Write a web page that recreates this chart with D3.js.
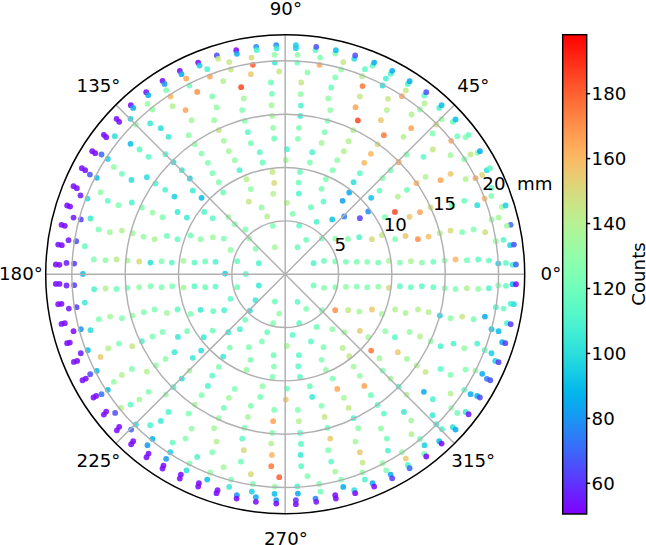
<!DOCTYPE html>
<html>
<head>
<meta charset="utf-8">
<script src="https://cdn.jsdelivr.net/npm/d3@7"></script>
<style>
html,body{margin:0;padding:0;background:#fff}
svg{display:block}
text{font-family:"DejaVu Sans",sans-serif;fill:#000}
</style>
</head>
<body>
<svg id="chart" width="646" height="545"></svg>
<script>
// measurement sites: [x in mm, y in mm, counts]
const quadrant1 = [
[2.66,1.03,110],[3.63,1.25,118],[4.69,1.19,122],[5.69,1.16,122],[6.69,1.16,125],[7.69,1.16,125],[8.72,1.09,122],[9.72,1.25,135],[10.75,1.09,125],[11.78,1.22,138],[12.81,1.09,128],[13.88,1.16,120],[14.94,1.28,128],[15.97,1.38,160],[17.03,1.31,122],[18.09,1.38,115],[19.09,1.28,118],[19.97,1.0,95],[20.69,1.06,115],[21.31,.88,108],[21.63,.91,70],
[1.16,2.53,120],[1.97,3.22,120],[3.44,3.34,120],[4.69,3.34,130],[5.88,3.31,125],[6.94,3.47,112],[8.13,3.28,150],[9.06,3.66,145],[10.31,3.28,125],[11.28,3.59,155],[12.44,3.28,170],[13.44,3.53,158],[14.5,3.84,140],[15.5,4.09,150],[16.59,3.94,125],[17.66,4.19,125],[18.75,3.94,148],[19.75,3.09,132],[20.47,3.22,112],[21.09,2.72,95],[21.44,2.78,65],
[1.31,4.56,115],[2.94,4.91,110],[4.41,5.13,92],[5.53,5.41,75],[7.0,5.25,62],[7.78,5.88,78],[9.34,5.34,125],[10.28,5.84,185],[11.66,5.38,155],[12.63,5.81,165],[13.63,6.25,150],[15.63,6.47,120],[16.78,6.88,118],[18.0,6.47,100],[18.69,7.09,160],[19.31,7.34,125],[20.31,6.31,135],[20.66,6.44,95],[21.13,4.63,70],[20.78,4.53,135],[20.0,5.31,135],[19.34,5.13,130],
[.16,6.69,140],[1.28,7.56,110],[3.41,8.0,122],[3.59,6.81,115],[2.41,6.28,120],[.69,5.66,125],[5.38,6.88,82],[6.0,7.66,85],[6.41,8.63,100],[8.06,7.16,92],[8.84,7.84,118],[10.56,7.28,140],[11.41,7.91,120],[12.31,8.53,162],[13.16,9.13,140],[14.56,8.81,165],[15.5,9.41,155],[16.91,8.91,140],[17.84,9.0,165],[18.47,9.31,150],[18.91,9.75,100],[19.19,9.94,115],[19.34,8.09,120],
[1.25,8.59,120],[1.38,9.59,118],[3.81,8.91,125],[4.44,9.75,125],[7.0,9.47,115],[7.41,10.44,160],[8.03,11.28,160],[9.13,9.0,128],[9.88,9.75,122],[10.63,10.5,165],[11.38,11.22,125],[12.97,11.0,115],[13.84,11.69,145],[15.5,11.16,135],[16.78,10.78,125],[17.38,11.22,145],[18.03,11.38,125],[18.25,11.53,85],
[.06,10.69,135],[.16,11.72,110],[2.31,10.47,125],[2.53,11.44,110],[4.88,10.69,130],[5.5,11.53,140],[5.94,12.47,140],[6.38,13.5,140],[8.66,12.19,150],[9.25,13.03,175],[11.09,12.88,140],[11.81,13.69,165],[13.81,13.19,125],[15.56,12.5,165],[16.13,12.94,120],[16.91,12.84,125],[17.19,13.06,118],
[1.19,12.69,125],[1.28,13.72,125],[3.41,12.31,135],[3.69,13.31,125],[3.97,14.38,125],[6.81,14.41,185],[6.59,15.66,165],[7.0,16.66,145],[7.25,17.63,175],[8.97,14.44,155],[9.53,15.38,140],[9.63,16.44,145],[10.94,16.69,165],[11.84,14.97,140],[11.31,17.22,145],[11.5,17.84,110],[11.66,18.09,85],[12.63,15.44,130],[13.06,16.0,140],[13.03,16.75,115],[13.22,17.06,65],[14.44,15.59,110],[14.66,15.84,90],[14.66,14.53,130],[14.16,14.03,150],[15.72,14.28,120],[15.97,14.5,90],
[1.41,14.84,105],[1.47,15.81,110],[1.44,16.88,130],[1.5,17.97,145],[2.09,18.91,128],[4.03,16.47,130],[4.22,15.38,130],[4.31,17.5,120],[4.69,18.44,125],[3.28,20.31,125],[3.22,19.63,165],[1.13,19.84,120],[1.16,20.56,130],[1.0,21.19,95],[1.0,21.47,95],[2.84,21.0,115],[2.91,21.31,65],[4.69,20.69,125],[4.75,21.0,90],[5.44,19.88,145],[5.25,19.19,130],[6.47,20.19,100],[6.56,20.5,65],[7.22,18.56,140],[7.47,19.22,115],[8.19,19.56,115],[8.34,19.84,85],[9.44,18.34,108],[9.13,17.69,100],[9.88,18.78,110],[10.03,19.06,85]
];
const quadrant2 = [
[-.84,21.47,78],[-2.72,21.31,78],[-4.59,21.0,52],[-6.41,20.5,65],[-8.16,19.84,52],[-9.88,19.06,52],[-11.5,18.13,52],[-13.03,17.06,52],[-14.47,15.84,52],[-15.81,14.56,52],[-15.56,14.28,52],[-17.0,13.06,52],[-16.78,12.84,52],[-18.09,11.53,52],[-17.81,11.34,52],[-19.06,9.94,52],[-18.75,9.75,52],[-19.84,8.25,52],[-19.53,8.06,52],[-20.44,6.44,52],[-20.16,6.34,52],[-20.97,4.63,52],[-20.66,4.53,52],[-21.28,2.78,52],[-20.94,2.72,52],[-21.5,.91,52],[-21.16,.88,52],
[-.81,21.16,105],[-2.69,21.0,110],[-4.53,20.66,85],[-6.28,20.19,145],[-8.03,19.56,95],[-9.72,18.75,85],[-11.31,17.84,80],[-12.84,16.78,85],[-14.25,15.59,85],[-14.5,14.56,95],[-15.97,12.94,100],[-17.22,11.22,70],[-18.31,9.34,65],[-19.19,7.38,55],[-19.84,5.31,55],[-19.16,5.13,62],[-20.31,3.19,55],[-19.59,3.09,65],[-20.5,1.06,55],[-19.78,1.0,62],[-17.66,9.03,90],[-18.53,7.09,100],[-16.63,10.81,95],[-18.25,5.22,105],[-18.78,2.63,118],
[-1.0,20.56,130],[-3.16,20.31,150],[-5.25,19.88,145],[-7.31,19.22,110],[-9.28,18.34,165],[-11.16,17.25,125],[-12.91,15.97,130],[-12.44,15.44,130],[-10.75,16.66,160],[-8.97,17.69,120],[-7.06,18.53,165],[-5.09,19.19,145],[-3.03,19.63,180],[-.97,19.84,105],[-.56,19.0,145],[-3.22,18.75,155],[-5.81,18.09,140],[-8.25,17.09,170],[-10.56,15.75,140],[-9.34,15.38,165],[-6.84,16.66,125],[-4.13,17.53,185],[-3.88,16.47,135],[-1.34,17.97,120],[-1.25,16.91,120],[-6.44,15.63,130],[-4.03,15.38,125],[-1.28,15.84,135],
[-14.0,14.03,130],[-12.66,14.13,105],[-11.66,13.69,100],[-10.94,12.88,105],[-8.78,14.44,135],[-6.66,14.44,132],[-6.22,13.5,145],[-3.81,14.38,125],[-1.22,14.84,135],[-1.13,13.72,130],[-9.06,13.03,130],[-3.5,13.31,115],[-3.22,12.28,122],[-1.03,12.72,120],[-5.75,12.5,135],[-8.47,12.19,130],[-14.5,12.22,90],[-13.66,11.69,115],[-12.81,11.0,115],[-11.22,11.25,110],[-10.47,10.5,100],[-9.69,9.75,105],[-8.94,8.97,95],[-7.84,11.31,125],[-5.28,11.53,135],[-2.38,11.44,115],[-4.72,10.69,130],[-7.25,10.44,125],[-2.13,10.47,120],
[-16.06,10.06,130],[-15.31,9.41,120],[-14.41,8.84,100],[-12.97,9.09,100],[-12.16,8.5,110],[-11.25,7.91,110],[-10.38,7.28,95],[-8.66,7.84,105],[-7.84,7.16,90],[-4.28,9.75,110],[-6.81,9.47,125],[-1.19,9.59,145],[-3.63,8.91,140],[-6.22,8.63,125],[-1.03,8.56,150],[-3.22,7.97,130],[-5.81,7.66,120],[-1.13,7.53,140],
[-17.31,7.69,130],[-16.63,6.88,115],[-15.63,6.47,125],[-14.38,6.72,110],[-13.44,6.25,125],[-12.44,5.78,132],[-11.5,5.34,125],[-10.09,5.84,105],[-9.22,5.31,105],[-7.59,5.84,112],[-6.81,5.25,115],[-5.34,5.38,130],[-3.41,6.81,145],[-2.22,6.25,130],[-1.69,5.41,140],[-4.72,4.69,125],[-3.72,4.19,125],[-1.16,4.53,125],[-3.38,3.34,130],[-2.78,2.38,125],[-.97,2.53,135],
[-17.5,4.19,125],[-16.44,3.94,135],[-15.31,4.09,140],[-14.31,3.84,135],[-13.28,3.53,130],[-12.25,3.28,138],[-11.09,3.59,120],[-10.09,3.28,118],[-8.88,3.63,122],[-7.94,3.28,130],[-6.78,3.47,135],[-5.75,3.34,125],[-5.13,2.28,130],
[-17.94,1.38,125],[-16.84,1.31,130],[-15.81,1.38,142],[-14.78,1.28,135],[-13.69,1.19,150],[-12.63,1.09,100],[-11.59,1.22,125],[-10.63,1.09,115],[-9.53,1.25,135],[-8.5,1.09,115],[-7.5,1.19,120],[-6.53,1.16,110],[-4.5,1.22,118],[-2.47,1.03,110],[-5.63,.06,95],[-3.69,.03,115],[-18.97,.03,90]
];
const quadrant3 = [
[-21.5,-.91,52],[-21.16,-.91,52],[-20.5,-1.06,55],[-19.78,-1.03,62],[-17.91,-1.41,110],[-16.84,-1.34,140],[-15.81,-1.38,120],[-14.78,-1.28,122],[-13.69,-1.22,130],[-12.63,-1.13,125],[-11.59,-1.22,125],[-10.59,-1.13,125],[-9.53,-1.25,135],[-8.5,-1.13,115],[-7.5,-1.22,120],[-6.53,-1.16,115],[-4.5,-1.22,120],[-2.47,-1.06,105],
[-21.28,-2.81,52],[-20.97,-2.78,52],[-20.28,-3.22,55],[-19.56,-3.09,62],[-18.78,-2.66,105],[-17.47,-4.22,125],[-16.41,-3.97,135],[-15.31,-4.13,125],[-14.31,-3.88,132],[-13.25,-3.56,125],[-12.25,-3.31,125],[-11.09,-3.63,135],[-10.09,-3.31,115],[-8.88,-3.72,125],[-7.94,-3.34,105],[-6.75,-3.47,118],[-5.72,-3.38,110],[-5.13,-2.31,115],[-2.78,-2.44,105],[-.97,-2.56,120],[-.56,-3.69,130],[-3.75,-4.28,120],[-3.31,-3.41,100],
[-20.97,-4.66,52],[-20.66,-4.59,52],[-19.84,-5.34,52],[-19.16,-5.16,80],[-18.25,-5.25,100],[-16.59,-6.94,140],[-15.59,-6.5,125],[-14.34,-6.75,145],[-13.44,-6.28,110],[-12.44,-5.84,125],[-11.5,-5.41,125],[-10.06,-5.88,105],[-9.19,-5.34,122],[-7.63,-5.91,105],[-6.81,-5.28,120],[-5.34,-5.44,105],[-4.25,-5.16,110],[-1.69,-5.44,120],[-1.13,-4.59,125],
[-20.44,-6.47,52],[-20.19,-6.41,52],[-19.16,-7.41,55],[-18.5,-7.13,90],[-17.31,-7.75,155],[-16.06,-10.09,130],[-15.31,-9.44,140],[-14.38,-8.88,125],[-12.97,-9.13,140],[-12.13,-8.56,130],[-11.22,-7.94,130],[-10.38,-7.31,105],[-8.66,-7.84,105],[-7.88,-7.16,100],[-5.81,-7.72,105],[-5.19,-6.88,125],[-3.41,-6.84,125],[-2.19,-6.31,125],
[-19.81,-8.22,52],[-19.5,-8.13,52],[-18.28,-9.38,65],[-17.66,-9.06,90],[-19.0,-9.94,52],[-18.69,-9.78,52],[-17.97,-11.56,52],[-17.72,-11.41,52],[-17.22,-11.25,72],[-16.63,-10.84,90],
[-8.97,-9.03,135],[-9.69,-9.78,100],[-10.47,-10.59,110],[-11.19,-11.28,130],[-12.81,-11.03,125],[-13.66,-11.75,135],[-14.5,-12.22,115],[-15.38,-12.53,140],[-6.22,-8.69,125],[-6.84,-9.5,115],[-7.25,-10.47,110],[-7.84,-11.34,125],[-8.47,-12.22,135],[-9.06,-13.06,125],[-3.63,-8.97,130],[-3.25,-8.03,125],[-1.09,-7.59,120],[-1.06,-8.66,125],[-1.19,-9.63,125],
[-4.72,-10.75,125],[-5.28,-11.59,135],[-5.75,-12.53,120],[-6.22,-13.5,130],[-6.66,-14.44,135],[-2.13,-10.5,130],[-2.34,-11.5,122],[-3.22,-12.34,125],[-3.5,-13.38,135],[-3.81,-14.41,125],[-4.03,-15.41,115],[-1.03,-12.72,125],[-1.13,-13.78,165],[-1.22,-14.88,125],[-1.31,-15.88,140],[-1.25,-16.94,160],[-1.31,-18.0,175],[-.56,-19.03,180],[-.97,-19.91,130],[-1.0,-20.59,90],[-.84,-21.19,80],[-.84,-21.5,52],[-2.75,-20.91,85],[-2.75,-21.34,52],
[-3.88,-16.5,150],[-4.16,-17.56,120],[-3.22,-18.75,150],[-3.03,-19.66,125],[-6.44,-15.69,140],[-6.84,-16.69,125],[-5.78,-18.09,135],[-5.06,-19.25,125],[-5.25,-19.94,105],[-3.13,-20.38,95],[-4.53,-20.72,80],[-4.56,-21.03,52],[-6.34,-20.25,52],[-6.44,-20.53,52],[-7.31,-19.25,90],[-8.09,-19.59,52],[-8.16,-19.91,52],[-7.03,-18.59,130],[-9.25,-18.38,100],[-8.97,-17.75,125],[-9.78,-18.78,52],[-9.88,-19.16,52],[-8.25,-17.13,110],
[-10.78,-16.69,95],[-11.16,-17.31,80],[-11.41,-17.94,52],[-11.5,-18.22,52],[-12.81,-16.81,52],[-13.0,-17.16,52],[-14.25,-15.66,52],[-14.44,-15.94,52],[-15.56,-14.31,52],[-15.78,-14.63,52],[-16.78,-12.88,52],[-17.0,-13.16,52],[-15.94,-13.0,65],[-14.44,-14.56,70],[-14.0,-14.09,100],[-12.66,-14.16,110],[-12.44,-15.44,88],[-12.91,-16.03,80],[-11.66,-13.75,105],[-10.94,-12.91,110],[-10.56,-15.78,118],[-9.34,-15.41,125],[-8.78,-14.47,130]
];
const quadrant4 = [
[2.66,-1.06,120],[3.63,-1.28,125],[4.69,-1.22,125],[5.69,-1.19,130],[6.69,-1.16,125],[7.69,-1.22,125],[8.72,-1.16,130],[9.72,-1.28,150],[10.75,-1.13,115],[11.78,-1.22,118],[12.81,-1.13,115],[13.88,-1.22,118],[14.94,-1.31,125],[15.97,-1.38,125],[17.03,-1.31,140],[18.09,-1.38,130],[19.09,-1.31,112],[19.97,-1.06,125],[20.69,-1.09,115],[21.31,-.94,90],[21.63,-.94,52],
[1.16,-2.59,115],[1.97,-3.25,125],[3.44,-3.38,125],[4.69,-3.38,170],[5.91,-3.38,145],[6.94,-3.5,135],[8.13,-3.31,155],[9.06,-3.72,135],[10.31,-3.31,140],[11.28,-3.63,138],[12.44,-3.31,140],[13.44,-3.56,140],[14.5,-3.88,95],[15.5,-4.13,130],[16.59,-3.97,145],[17.66,-4.22,122],[18.72,-3.97,85],[19.75,-3.09,110],[20.47,-3.22,118],[21.13,-2.78,110],[21.44,-2.81,100],
[1.31,-4.59,115],[2.94,-4.94,120],[4.41,-5.16,130],[5.53,-5.44,135],[7.0,-5.31,155],[7.78,-5.91,135],[9.38,-5.34,130],[10.28,-5.91,115],[11.66,-5.41,130],[12.63,-5.84,140],[13.63,-6.28,130],[14.56,-6.75,110],[15.78,-6.5,110],[16.78,-6.94,130],[18.0,-6.5,110],[18.69,-7.13,115],[19.34,-7.41,95],[19.69,-8.13,95],[20.0,-8.25,62],[20.78,-4.59,110],[21.13,-4.69,62],[19.34,-5.16,90],[20.0,-5.34,90],[20.34,-6.38,85],[20.63,-6.47,62],
[.69,-5.69,115],[.16,-6.72,135],[2.41,-6.31,115],[3.59,-6.84,125],[5.38,-6.91,140],[6.0,-7.69,145],[8.06,-7.16,175],[8.84,-7.88,135],[10.56,-7.31,155],[11.41,-7.94,135],[12.34,-8.56,140],[13.16,-9.16,145],[14.56,-8.88,115],[15.5,-9.44,125],[16.91,-8.94,125],[17.84,-9.03,130],[18.47,-9.34,85],[18.91,-9.81,75],[19.22,-9.94,65],
[1.28,-7.59,115],[1.22,-8.63,115],[1.38,-9.63,115],[3.41,-8.03,125],[3.81,-8.97,130],[4.44,-9.78,125],[6.41,-8.66,135],[7.0,-9.53,130],[9.13,-9.03,125],[9.88,-9.78,135],[10.63,-10.53,110],[11.38,-11.28,140],[13.0,-11.03,85],[13.84,-11.72,110],[15.5,-11.19,140],[16.78,-10.84,115],[17.38,-11.25,85],[18.0,-11.41,85],[18.25,-11.56,65],
[.16,-10.72,120],[.06,-11.75,155],[2.31,-10.5,120],[2.53,-11.5,105],[4.88,-10.75,165],[5.5,-11.59,135],[5.94,-12.53,145],[7.41,-10.47,165],[8.03,-11.34,120],[8.66,-12.25,115],[9.25,-13.06,115],[11.13,-12.91,105],[11.81,-13.72,135],[13.81,-13.22,105],[14.16,-14.06,105],[15.56,-12.53,130],[16.13,-13.0,120],[16.91,-12.91,105],[17.19,-13.13,55],
[1.19,-12.72,125],[1.28,-13.78,140],[1.38,-14.88,115],[3.41,-12.34,125],[3.69,-13.38,145],[3.97,-14.41,120],[4.22,-15.41,155],[6.41,-13.5,110],[6.84,-14.44,130],[6.59,-15.69,135],[7.0,-16.69,155],[7.25,-17.66,145],[8.97,-14.47,130],[9.53,-15.41,120],[9.63,-16.53,110],[10.94,-16.69,130],[11.84,-15.0,140],[11.31,-17.28,155],[11.5,-17.88,110],[11.66,-18.19,70],[12.63,-15.44,120],[13.03,-16.84,120],[13.22,-17.09,52],[13.06,-16.03,95],[14.44,-15.66,90],[14.66,-15.88,52],[14.69,-14.53,110],[15.72,-14.34,100],[15.97,-14.56,85],
[1.47,-15.91,115],[1.44,-16.94,105],[1.5,-18.0,115],[2.09,-18.94,125],[4.03,-16.5,125],[4.31,-17.56,115],[4.69,-18.5,135],[5.25,-19.25,125],[3.19,-19.66,125],[3.31,-20.38,120],[1.13,-19.88,110],[1.19,-20.56,85],[1.0,-21.19,60],[1.0,-21.56,52],[2.84,-21.03,75],[2.91,-21.34,55],[4.69,-20.72,52],[4.75,-21.03,52],[5.44,-19.94,85],[6.47,-20.25,100],[6.56,-20.53,52],[7.22,-18.59,130],[7.47,-19.25,110],[8.19,-19.59,85],[8.34,-19.91,52],[9.13,-17.72,130],[9.47,-18.38,125],[9.88,-18.78,85],[10.03,-19.13,62]
];
const radialTicks = [5, 10, 15, 20];
const angleTicks = [0, 45, 90, 135, 180, 225, 270, 315];
const colorTicks = [60, 80, 100, 120, 140, 160, 180];
const colorDomain = [50.4, 198];
const radialMax = 22.45;
const radialUnit = "mm";
const colorLabel = "Counts";

const points = [...quadrant1, ...quadrant2, ...quadrant3, ...quadrant4].map(([x, y, counts]) => ({
  r: Math.hypot(x, y), theta: Math.atan2(y, x), counts
}));

const fontSize = 18.2;
const cx = 285.2, cy = 274.2, R = 239.5;
const rad = d => d * Math.PI / 180;
const radial = (thetaRad, r) => d3.pointRadial(Math.PI / 2 - thetaRad, r);

// matplotlib "rainbow" colormap
const rainbow = t => {
  const c = v => Math.round(255 * Math.min(1, Math.max(0, v)));
  return `rgb(${c(Math.abs(2 * t - 0.5))},${c(Math.sin(Math.PI * t))},${c(Math.cos(Math.PI * t / 2))})`;
};
const color = d3.scaleSequential(rainbow).domain(colorDomain);
const rScale = d3.scaleLinear().domain([0, radialMax]).range([0, R]);

const svg = d3.select("#chart");
const polar = svg.append("g").attr("transform", `translate(${cx},${cy})`);

polar.append("g").selectAll("circle").data(points).join("circle")
  .attr("cx", d => radial(d.theta, rScale(d.r))[0])
  .attr("cy", d => radial(d.theta, rScale(d.r))[1])
  .attr("r", 2.9)
  .attr("fill", d => color(d.counts))
  .attr("fill-opacity", 0.86);

const grid = polar.append("g").attr("fill", "none").attr("stroke", "#b0b0b0").attr("stroke-width", 1.45);
grid.selectAll("circle").data(radialTicks).join("circle").attr("r", d => rScale(d));
grid.selectAll("line").data(angleTicks).join("line")
  .attr("x2", d => radial(rad(d), R)[0])
  .attr("y2", d => radial(rad(d), R)[1]);

polar.append("circle").attr("r", R).attr("fill", "none").attr("stroke", "#000").attr("stroke-width", 1.5);

polar.append("g").attr("transform", "translate(0.7,-0.9)").selectAll("text").data(angleTicks).join("text")
  .attr("x", d => radial(rad(d), 265)[0])
  .attr("y", d => radial(rad(d), 265)[1])
  .attr("text-anchor", "middle").attr("dy", "0.36em")
  .attr("font-size", fontSize)
  .text(d => d + "°");

const labelAngle = rad(22.5);
polar.append("g").selectAll("text").data(radialTicks).join("text")
  .attr("x", d => radial(labelAngle, rScale(d))[0])
  .attr("y", d => radial(labelAngle, rScale(d))[1] - 9.3)
  .attr("dy", "0.36em")
  .attr("font-size", fontSize)
  .text(d => d);
polar.append("text")
  .attr("x", radial(labelAngle, rScale(20))[0] + 34.6)
  .attr("y", radial(labelAngle, rScale(20))[1] - 9.3)
  .attr("dy", "0.36em")
  .attr("font-size", fontSize)
  .text(radialUnit);

// colorbar
const barX = 562.7, barW = 24, barTop = 34.7, barBottom = 514;
const cScale = d3.scaleLinear().domain(colorDomain).range([barBottom, barTop]);
const defs = svg.append("defs");
const grad = defs.append("linearGradient").attr("id", "ramp")
  .attr("x1", 0).attr("x2", 0).attr("y1", 1).attr("y2", 0);
grad.selectAll("stop").data(d3.range(0, 1.0001, 0.02)).join("stop")
  .attr("offset", d => d).attr("stop-color", d => rainbow(d));
svg.append("rect").attr("x", barX).attr("y", barTop).attr("width", barW).attr("height", barBottom - barTop)
  .attr("fill", "url(#ramp)");
svg.append("rect").attr("x", barX).attr("y", barTop).attr("width", barW).attr("height", barBottom - barTop)
  .attr("fill", "none").attr("stroke", "#000").attr("stroke-width", 1.45);
const cAxis = svg.append("g").attr("transform", `translate(${barX + barW},0)`)
  .call(d3.axisRight(cScale).tickValues(colorTicks).tickSize(3.5).tickPadding(1.4));
cAxis.select(".domain").remove();
cAxis.selectAll("line").attr("stroke", "#000").attr("stroke-width", 1.45);
cAxis.selectAll("text").attr("font-size", fontSize).attr("font-family", '"DejaVu Sans"').attr("dy", "0.36em");
svg.append("text")
  .attr("transform", "translate(638,274) rotate(-90)")
  .attr("text-anchor", "middle").attr("dy", "0.36em")
  .attr("font-size", fontSize)
  .text(colorLabel);
</script>
</body>
</html>
